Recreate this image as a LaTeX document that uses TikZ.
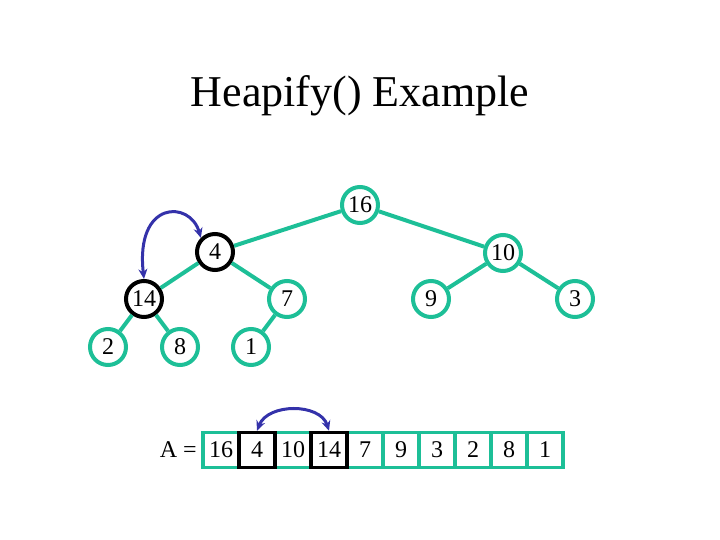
\documentclass[tikz,border=0pt]{standalone}
\usepackage{fontspec}
\setmainfont{Liberation Serif}
\usetikzlibrary{positioning,arrows.meta}
\definecolor{heapgreen}{RGB}{29,191,151}
\definecolor{swapblue}{RGB}{52,50,170}
\tikzset{
  heapnode/.style={circle, draw=heapgreen, line width=4pt, fill=white,
    minimum size=36pt, inner sep=0pt, font=\fontsize{24}{26}\selectfont},
  hotnode/.style={heapnode, draw=black},
  heapedge/.style={draw=heapgreen, line width=4pt},
  cell/.style={rectangle, draw=heapgreen, line width=3.5pt, fill=white,
    minimum width=36pt, minimum height=35pt, inner sep=0pt,
    font=\fontsize{24}{26}\selectfont},
  hotcell/.style={cell, draw=black},
  swap/.style={{Stealth[length=10pt,width=9pt]}-{Stealth[length=10pt,width=9pt]},
    draw=swapblue, line width=3pt},
}
\begin{document}
\begin{tikzpicture}[x=1pt, y=-1pt]
    \useasboundingbox (0,0) rectangle (720,540);
    \node (title) at (360,96) {\fontsize{44}{50}\selectfont Heapify() Example};
    % the tree
    \node [heapnode] (n16) at (360,205) {16};
    \node [hotnode]  (n4)  at (215,252) {4};
    \node [heapnode] (n10) at (503,253) {10};
    \node [hotnode]  (n14) at (144,299) {14};
    \node [heapnode] (n7)  at (287,299) {7};
    \node [heapnode] (n9)  at (431,299) {9};
    \node [heapnode] (n3)  at (575,299) {3};
    \node [heapnode] (n2)  at (108,347) {2};
    \node [heapnode] (n8)  at (180,347) {8};
    \node [heapnode] (n1)  at (251,347) {1};
    \path[heapedge]
      (n16) edge (n4)
      (n16) edge (n10)
      (n4) edge (n14)
      (n4) edge (n7)
      (n10) edge (n9)
      (n10) edge (n3)
      (n14) edge (n2)
      (n14) edge (n8)
      (n7) edge (n1)
      ;
    \draw[swap] (n4.north west) .. controls (190,200) and (135,200) .. (n14.north);
    % the array
    \node [cell] (a1) at (221,450) {16};
    \node [hotcell] [right=-3.5pt of a1] (a2) {4};
    \node [cell] [right=-3.5pt of a2] (a3) {10};
    \node [hotcell] [right=-3.5pt of a3] (a4) {14};
    \node [cell] [right=-3.5pt of a4] (a5) {7};
    \node [cell] [right=-3.5pt of a5] (a6) {9};
    \node [cell] [right=-3.5pt of a6] (a7) {3};
    \node [cell] [right=-3.5pt of a7] (a8) {2};
    \node [cell] [right=-3.5pt of a8] (a9) {8};
    \node [cell] [right=-3.5pt of a9] (a10) {1};
    % black frames on top of their green neighbours
    \node [hotcell, fill=none] (f2) at (a2) {};
    \node [hotcell, fill=none] (f4) at (a4) {};
    \node [left=1pt of a1, font=\fontsize{24}{26}\selectfont] (lblA) {A =};
    \draw[swap] (a2.north) .. controls (268,403) and (320,403) .. (a4.north);
\end{tikzpicture}
\end{document}
